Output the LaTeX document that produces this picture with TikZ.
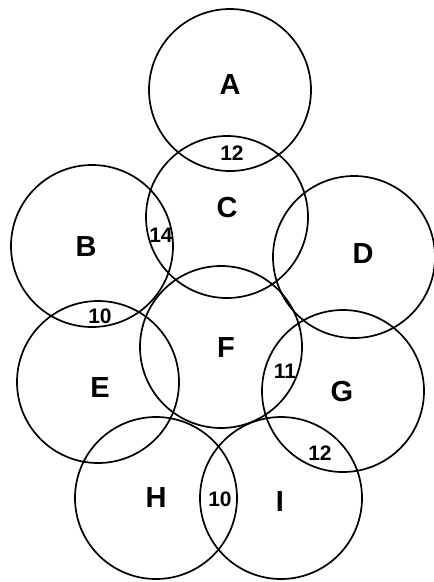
\documentclass[tikz,border=0pt]{standalone}
\usepackage{fontspec}
\setmainfont{Liberation Sans}
\begin{document}
\begin{tikzpicture}[x=1pt,y=-1pt,
  ring/.style={draw=black,line width=1.7pt,circle,minimum size=162pt,inner sep=0pt},
  letter/.style={font=\bfseries\fontsize{29}{29}\selectfont,inner sep=0pt},
  num/.style={font=\bfseries\fontsize{21}{21}\selectfont,inner sep=0pt}]
\useasboundingbox (0,0) rectangle (434,582);
\node[ring] (cA) at (230,90) {};
\node[ring] (cC) at (227,217) {};
\node[ring] (cB) at (92,246) {};
\node[ring] (cD) at (354,257) {};
\node[ring] (cF) at (221,347) {};
\node[ring] (cE) at (98,382) {};
\node[ring] (cG) at (343,391) {};
\node[ring] (cH) at (156,498) {};
\node[ring] (cI) at (281,498) {};
\node[letter] (lA) at (230,85) {A};
\node[letter] (lC) at (227,208) {C};
\node[letter] (lB) at (86,247) {B};
\node[letter] (lD) at (363,254) {D};
\node[letter] (lF) at (226,348) {F};
\node[letter] (lE) at (100,388) {E};
\node[letter] (lG) at (342,392) {G};
\node[letter] (lH) at (156,498) {H};
\node[letter] (lI) at (280,502) {I};
\node[num] (n12a) at (232,153) {12};
\node[num] (n14) at (161,235) {14};
\node[num] (n10a) at (100,316) {10};
\node[num] (n11) at (285,371) {11};
\node[num] (n12b) at (320,453) {12};
\node[num] (n10b) at (220,499) {10};
\end{tikzpicture}
\end{document}
